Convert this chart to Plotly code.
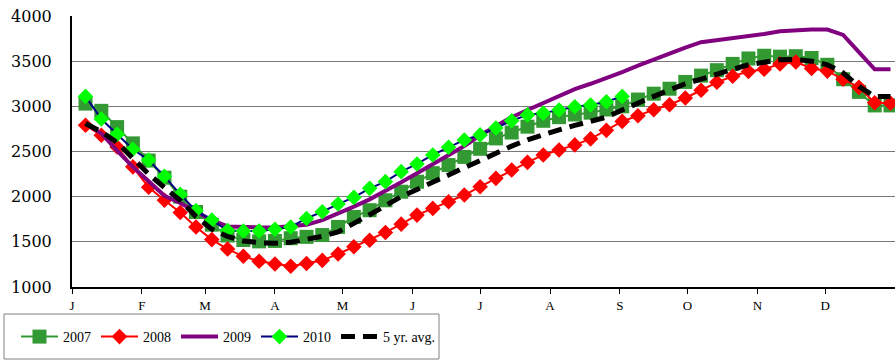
import plotly.graph_objects as go

# week-ending day of year for the 52 weekly points
weeks = list(range(52))
days = [6 + 7 * w for w in weeks]

month_starts = [0, 31, 59, 90, 120, 151, 181, 212, 243, 273, 304, 334]
month_labels = ["J", "F", "M", "A", "M", "J", "J", "A", "S", "O", "N", "D"]

y2007 = [3030, 2950, 2770, 2590, 2400, 2210, 2000, 1830, 1690, 1570,
         1520, 1505, 1510, 1540, 1555, 1575, 1665, 1775, 1850, 1960,
         2055, 2165, 2260, 2350, 2440, 2530, 2645, 2710, 2775, 2840,
         2880, 2910, 2930, 2965, 3000, 3075, 3140, 3195, 3270, 3340,
         3400, 3470, 3530, 3560, 3550, 3555, 3535, 3460, 3300, 3160,
         3010, 3010]

y2008 = [2790, 2680, 2550, 2330, 2105, 1960, 1825, 1665, 1525, 1420,
         1340, 1285, 1255, 1230, 1260, 1295, 1365, 1445, 1518, 1604,
         1696, 1796, 1870, 1944, 2018, 2110, 2203, 2295, 2380, 2462,
         2517, 2573, 2640, 2734, 2833, 2896, 2963, 3018, 3092, 3178,
         3266, 3333, 3385, 3410, 3470, 3490, 3420, 3390, 3300, 3210,
         3040, 3035]

y2009 = [2810, 2700, 2510, 2330, 2170, 2010, 1930, 1840, 1740, 1670,
         1660, 1660, 1660, 1670, 1690, 1740, 1810, 1890, 1970, 2060,
         2160, 2260, 2360, 2460, 2560, 2680, 2780, 2880, 2960, 3040,
         3120, 3190, 3250, 3310, 3380, 3450, 3520, 3590, 3650, 3710,
         3730, 3760, 3780, 3800, 3830, 3845, 3850, 3850, 3790, 3600,
         3410, 3410]

y2010 = [3110, 2860, 2690, 2525, 2405, 2225, 2025, 1845, 1740, 1625,
         1620, 1620, 1640, 1665, 1759, 1833, 1918, 1992, 2092, 2166,
         2277, 2362, 2462, 2547, 2628, 2684, 2760, 2840, 2905, 2925,
         2960, 2995, 3015, 3050, 3110]

y_avg = [2810, 2720, 2600, 2420, 2250, 2100, 1960, 1780, 1640, 1560,
         1510, 1490, 1485, 1495, 1525, 1560, 1610, 1700, 1800, 1900,
         2000, 2080, 2160, 2250, 2330, 2410, 2480, 2560, 2630, 2690,
         2740, 2790, 2830, 2880, 2960, 3040, 3110, 3180, 3250, 3300,
         3360, 3410, 3460, 3490, 3515, 3520, 3500, 3460, 3370, 3220,
         3110, 3110]

fig = go.Figure()

# ------------------------------- series ------------------------------- #
fig.add_trace(go.Scatter(
    x=days, y=y2007, name="2007", mode="lines+markers",
    line=dict(color="#339933", width=2),
    marker=dict(symbol="square", size=14, color="#339933"),
))
fig.add_trace(go.Scatter(
    x=days, y=y2008, name="2008", mode="lines+markers",
    line=dict(color="#ff0000", width=2),
    marker=dict(symbol="diamond", size=12, color="#ff0000"),
))
fig.add_trace(go.Scatter(
    x=days, y=y2009, name="2009", mode="lines",
    line=dict(color="#800080", width=4),
))
fig.add_trace(go.Scatter(
    x=days[:len(y2010)], y=y2010, name="2010", mode="lines+markers",
    line=dict(color="#000080", width=2),
    marker=dict(symbol="diamond", size=12, color="#00ff00"),
))
fig.add_trace(go.Scatter(
    x=days, y=y_avg, name="5 yr. avg.", mode="lines",
    line=dict(color="#000000", width=5, dash="14px,8px"),
))

# legend frame
fig.add_shape(type="rect", xref="paper", yref="paper",
              x0=(4 - 72) / 823, x1=(439 - 72) / 823,
              y0=-(359 - 287) / 271, y1=-(314 - 287) / 271,
              line=dict(color="#808080", width=1), fillcolor="white",
              layer="below")

fig.update_layout(
    width=895, height=360,
    margin=dict(l=72, r=0, t=16, b=73, autoexpand=False),
    paper_bgcolor="white", plot_bgcolor="white",
    font=dict(family="Liberation Serif", color="black"),
    showlegend=True,
    legend=dict(
        orientation="h",
        xref="container", yref="container",
        x=16 / 895, y=1 - 321 / 360,
        xanchor="left", yanchor="top",
        font=dict(size=14, family="Liberation Serif"),
        itemwidth=37,
        bgcolor="rgba(0,0,0,0)", borderwidth=0,
    ),
    xaxis=dict(
        range=[0, 365], automargin=False,
        tickvals=month_starts, ticktext=month_labels,
        ticks="outside", ticklen=5, tickcolor="black",
        tickfont=dict(size=13),
        showgrid=False, zeroline=False,
        showline=True, linecolor="black", linewidth=2,
    ),
    yaxis=dict(
        range=[1000, 4000], dtick=500, automargin=False,
        tickfont=dict(size=16, family="DejaVu Serif"),
        ticks="", ticklabelstandoff=15,
        showgrid=True, gridcolor="#777777", gridwidth=1,
        zeroline=False,
        showline=True, linecolor="black", linewidth=2,
    ),
)

# drop the page's default body margin so the figure sits at the window origin
fig.write_html("out.html", config={"displayModeBar": False},
               post_script="document.body.style.margin='0px';")
